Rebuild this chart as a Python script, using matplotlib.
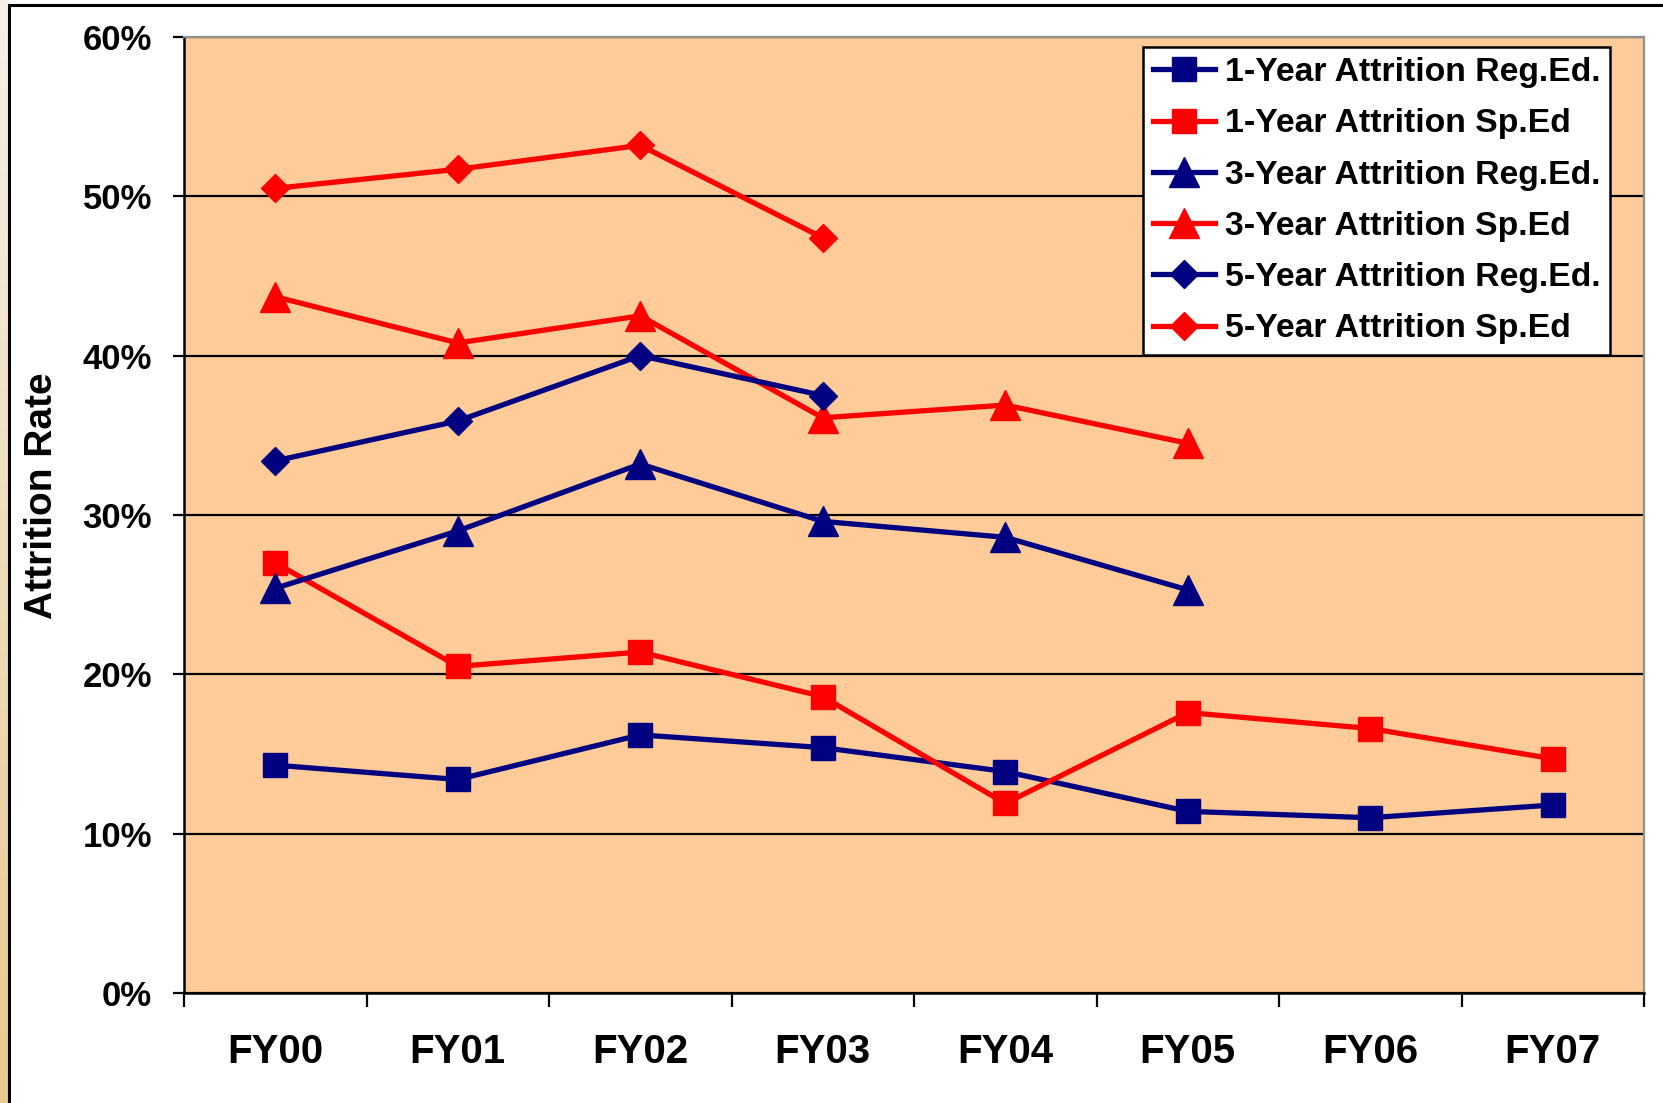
import numpy as np
from matplotlib import pyplot as plt
from matplotlib.patches import Rectangle
from matplotlib.colors import LinearSegmentedColormap

plt.rcParams['font.family'] = ['Liberation Sans', 'DejaVu Sans']
plt.rcParams['font.weight'] = 'bold'

# data (percent)
YEARS = ["FY00", "FY01", "FY02", "FY03", "FY04", "FY05", "FY06", "FY07"]
ONE_YEAR_REG = [14.3, 13.4, 16.2, 15.4, 13.9, 11.4, 11.0, 11.8]
ONE_YEAR_SP = [27.0, 20.5, 21.4, 18.6, 11.9, 17.6, 16.6, 14.7]
THREE_YEAR_REG = [25.4, 29.0, 33.2, 29.6, 28.6, 25.3]
THREE_YEAR_SP = [43.7, 40.8, 42.5, 36.1, 36.9, 34.5]
FIVE_YEAR_REG = [33.4, 35.9, 40.0, 37.5]
FIVE_YEAR_SP = [50.5, 51.7, 53.2, 47.4]

NAVY = "#000080"
RED = "#FF0000"


def main():
    W, H = 1663, 1103
    fig = plt.figure(figsize=(W / 100, H / 100), dpi=100)
    fig.patch.set_facecolor("white")

    # tan strip on the left edge with a soft gradient
    strip = fig.add_axes([0, 0, 9 / W, 1])
    grad = np.linspace(0, 1, 256).reshape(-1, 1)
    cmap = LinearSegmentedColormap.from_list("tan", ["#F6F0E8", "#E9C98D"])
    strip.imshow(grad, aspect="auto", cmap=cmap, extent=[0, 1, 0, 1], origin="upper")
    strip.axis("off")
    # outer chart frame
    fig.add_artist(Rectangle((9 / W, -0.1), 1.2, 1.1 - 5 / H, transform=fig.transFigure,
                             facecolor="none", edgecolor="black", linewidth=2.2))

    ax = fig.add_axes([184 / W, 1 - 993 / H, (1644 - 184) / W, (993 - 37) / H])
    ax.set_facecolor("#FFCC99")

    x = np.arange(len(YEARS))
    series = [
        (ONE_YEAR_REG, NAVY, "s", 17.5, "1-Year Attrition Reg.Ed."),
        (ONE_YEAR_SP, RED, "s", 17.5, "1-Year Attrition Sp.Ed"),
        (THREE_YEAR_REG, NAVY, "^", 21, "3-Year Attrition Reg.Ed."),
        (THREE_YEAR_SP, RED, "^", 21, "3-Year Attrition Sp.Ed"),
        (FIVE_YEAR_REG, NAVY, "D", 14.5, "5-Year Attrition Reg.Ed."),
        (FIVE_YEAR_SP, RED, "D", 14.5, "5-Year Attrition Sp.Ed"),
    ]
    for vals, color, marker, ms, label in series:
        ax.plot(x[:len(vals)], np.array(vals) / 100, color=color, marker=marker,
                markersize=ms, linewidth=3.8, label=label, zorder=3)

    ax.set_xlim(-0.5, len(YEARS) - 0.5)
    ax.set_ylim(0, 0.6)
    ax.set_yticks(np.arange(0, 0.61, 0.1))
    ax.set_yticklabels([f"{int(round(v * 100))}%" for v in np.arange(0, 0.61, 0.1)])
    ax.yaxis.grid(True, color="black", linewidth=1.6, zorder=1)
    ax.set_axisbelow(True)

    ax.set_xticks(np.arange(-0.5, len(YEARS), 1.0))
    ax.set_xticklabels([])
    ax.set_xticks(x, minor=True)
    ax.set_xticklabels(YEARS, minor=True)
    ax.tick_params(axis="x", which="major", direction="out", length=10, width=1.6)
    ax.tick_params(axis="x", which="minor", length=0, pad=29, labelsize=29)
    ax.tick_params(axis="y", direction="out", length=8, width=1.6, pad=15, labelsize=25)

    for side in ("left", "bottom"):
        ax.spines[side].set_color("black")
        ax.spines[side].set_linewidth(1.8)
    for side in ("top", "right"):
        ax.spines[side].set_color("#909090")
        ax.spines[side].set_linewidth(1.6)

    fig.text(42 / W, 1 - 496 / H, "Attrition Rate", rotation=90, fontsize=28,
             fontweight="bold", ha="center", va="center")

    leg = ax.legend(loc="upper right", bbox_to_anchor=(0.977, 0.9895), fontsize=24.3,
                    handlelength=1.82, handletextpad=0.3, labelspacing=0.6,
                    borderpad=0.3, borderaxespad=0, fancybox=False, framealpha=1,
                    edgecolor="black", facecolor="white")
    leg.get_frame().set_linewidth(1.8)

    fig.savefig("out.png", dpi=100)


if __name__ == '__main__':
    main()
